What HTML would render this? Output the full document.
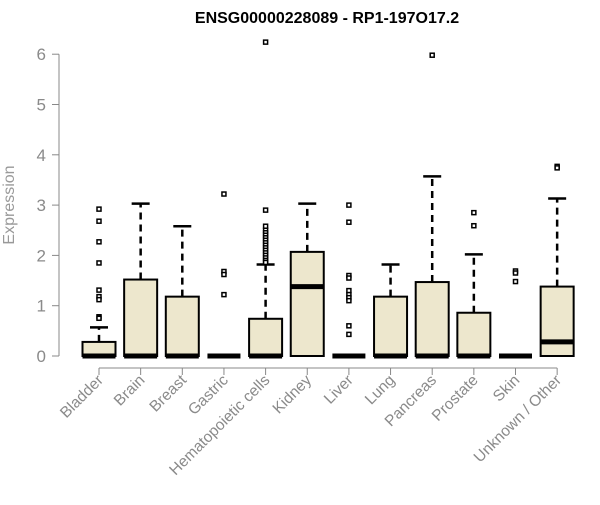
<!DOCTYPE html>
<html><head><meta charset="utf-8"><style>body{margin:0;background:#fff}svg{font-family:"Liberation Sans",sans-serif}</style></head>
<body>
<svg id="c" width="600" height="500">
<text x="327" y="23" text-anchor="middle" font-weight="bold" font-size="16">ENSG00000228089 - RP1-197O17.2</text>
<text transform="translate(14,205) rotate(-90)" text-anchor="middle" font-size="16" fill="#999">Expression</text>
</svg>
<script>
const categories=["Bladder","Brain","Breast","Gastric","Hematopoietic cells","Kidney","Liver","Lung","Pancreas","Prostate","Skin","Unknown / Other"];
const q1s=[0,0,0,0,0,0,0,0,0,0,0,0];
const medians=[0,0,0,0,0,1.38,0,0,0,0,0,0.28];
const q3s=[0.28,1.52,1.18,0,0.74,2.07,0,1.18,1.47,0.86,0,1.38];
const whiskers=[0.57,3.03,2.58,0,1.82,3.03,0,1.82,3.57,2.02,0,3.13];
const outliers=[[2.92,2.68,2.27,1.85,1.31,1.18,1.12,0.78,0.75],[],[],[3.22,1.68,1.62,1.22],[6.24,2.9,2.58,2.5,2.45,2.4,2.35,2.3,2.25,2.2,2.15,2.1,2.05,2.0,1.95,1.9,1.86],[],[3.0,2.66,1.6,1.55,1.3,1.22,1.16,1.1,0.6,0.43],[],[5.98],[2.85,2.59],[1.69,1.65,1.48],[3.77,3.74]];
const yTicks=[0,1,2,3,4,5,6];
const svg=document.getElementById('c');const NS='http://www.w3.org/2000/svg';
const y=v=>356-v*50.3;const x=i=>99+i*41.65;
function mk(t,a,name){const e=document.createElementNS(NS,t);for(const k in a)e.setAttribute(k,a[k]);


svg.appendChild(e);return e;}
mk('line',{x1:59,x2:59,y1:y(6),y2:y(0),stroke:'#888'},'y-axis');
yTicks.forEach(t=>{mk('line',{x1:52,x2:59,y1:y(t),y2:y(t),stroke:'#888'},'y-tick');
const tx=mk('text',{x:46,y:y(t)+6,'text-anchor':'end','font-size':17,fill:'#8a8a8a'},'y-tick-label');tx.textContent=t;});
mk('line',{x1:x(0),x2:x(11),y1:368,y2:368,stroke:'#888'},'x-axis');
categories.forEach((c,i)=>{const cx=x(i);
mk('line',{x1:cx,x2:cx,y1:368,y2:375,stroke:'#888'},'x-tick');
const t=mk('text',{transform:`translate(${cx+5},381) rotate(-45)`,'text-anchor':'end','font-size':15.5,fill:'#8a8a8a'},'x-tick-label');t.textContent=c;
if(whiskers[i]>q3s[i]){mk('line',{x1:cx,x2:cx,y1:y(q3s[i]),y2:y(whiskers[i]),stroke:'#000','stroke-width':2.5,'stroke-dasharray':'7,5'},'whisker');
mk('line',{x1:cx-9,x2:cx+9,y1:y(whiskers[i]),y2:y(whiskers[i]),stroke:'#000','stroke-width':2.5},'whisker-cap');}
const h=y(q1s[i])-y(q3s[i]);
if(h>0)mk('rect',{x:cx-16.5,y:y(q3s[i]),width:33,height:h,fill:'#ede7cd',stroke:'#000','stroke-width':2},'box-'+c.toLowerCase().replace(/[^a-z]+/g,'-'));
mk('line',{x1:cx-16.5,x2:cx+16.5,y1:y(medians[i]),y2:y(medians[i]),stroke:'#000','stroke-width':5},'median');
outliers[i].forEach(v=>mk('rect',{x:cx-2,y:y(v)-2,width:4,height:4,fill:'#fff',stroke:'#000','stroke-width':1.5},'outlier'));
});
</script>
</body></html>
